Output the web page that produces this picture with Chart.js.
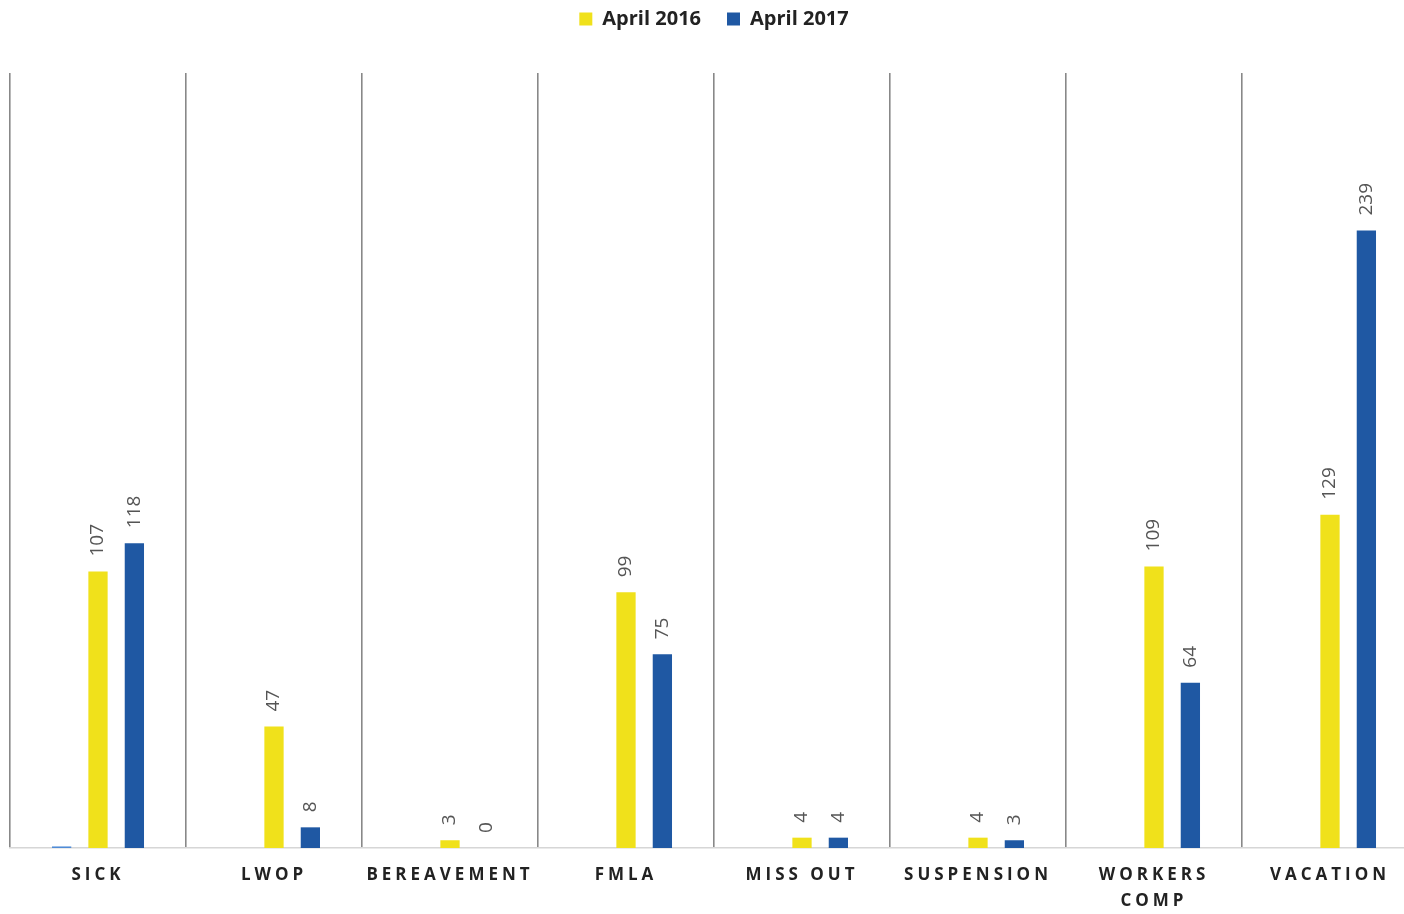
<!DOCTYPE html>
<html>
<head>
<meta charset="utf-8">
<script src="https://cdn.jsdelivr.net/npm/chart.js@4"></script>
<style>
  html, body { margin: 0; padding: 0; background: #fff; overflow: hidden; }
  #wrap { width: 1420px; height: 914px; }
</style>
</head>
<body>
<div id="wrap"><canvas id="myChart"></canvas></div>
<script>
const categories = ['SICK', 'LWOP', 'BEREAVEMENT', 'FMLA', 'MISS OUT', 'SUSPENSION', ['WORKERS', 'COMP'], 'VACATION'];
const april2016 = [107, 47, 3, 99, 4, 4, 109, 129];
const april2017 = [118, 8, 0, 75, 4, 3, 64, 239];
// faint unnamed series sitting left of each pair (only a sliver shows under SICK)
const unnamed = [0.6, 0, 0, 0, 0, 0, 0, 0];

const yellow = '#F0E11B';
const blue = '#1F58A3';

// extra room between the legend and the plot
const legendGap = {
    id: 'legendGap',
    afterInit(chart) {
        const fit = chart.legend.fit;
        chart.legend.fit = function () {
            fit.call(this);
            this.height += 34;
        };
    }
};

// value labels, turned to read bottom-to-top above each bar
const barValues = {
    id: 'barValues',
    afterDatasetsDraw(chart) {
        const ctx = chart.ctx;
        ctx.save();
        ctx.font = '19px "Open Sans"';
        ctx.fillStyle = '#555';
        ctx.textAlign = 'left';
        ctx.textBaseline = 'middle';
        [1, 2].forEach(di => {
            const meta = chart.getDatasetMeta(di);
            meta.data.forEach((bar, i) => {
                ctx.save();
                ctx.translate(bar.x, bar.y - 15);
                ctx.rotate(-Math.PI / 2);
                ctx.fillText(String(chart.data.datasets[di].data[i]), 0, 0);
                ctx.restore();
            });
        });
        ctx.restore();
    }
};

// category names with wide letter spacing under the axis
const spacedTicks = {
    id: 'spacedTicks',
    afterDraw(chart) {
        const ctx = chart.ctx;
        const xs = chart.scales.x;
        ctx.save();
        ctx.font = 'bold 17px "Open Sans"';
        ctx.fillStyle = '#222';
        ctx.textAlign = 'center';
        ctx.textBaseline = 'middle';
        ctx.letterSpacing = '4px';
        categories.forEach((c, i) => {
            const x = xs.getPixelForValue(i);
            const lines = Array.isArray(c) ? c : [c];
            lines.forEach((t, k) => {
                ctx.fillText(t, x, xs.bottom + 27 + k * 26);
            });
        });
        ctx.restore();
    }
};

const data = {
    labels: categories,
    datasets: [{
        label: '',
        data: unnamed,
        backgroundColor: '#4F8BD6'
    }, {
        label: 'April 2016',
        data: april2016,
        backgroundColor: yellow
    }, {
        label: 'April 2017',
        data: april2017,
        backgroundColor: blue
    }]
};

const config = {
    type: 'bar',
    data,
    options: {
        responsive: true,
        maintainAspectRatio: false,
        animation: false,
        categoryPercentage: 0.62,
        barPercentage: 0.53,
        layout: {
            padding: { left: 10, right: 2, top: -17, bottom: 66 }
        },
        scales: {
            x: {
                grid: {
                    display: true,
                    offset: true,
                    color: '#888',
                    lineWidth: 1.6,
                    drawTicks: false
                },
                border: {
                    display: true,
                    color: '#d6d6d6',
                    width: 1.5
                },
                ticks: { display: false }
            },
            y: {
                display: false,
                min: 0,
                max: 300
            }
        },
        plugins: {
            legend: {
                position: 'top',
                labels: {
                    filter: item => item.text !== '',
                    boxWidth: 13,
                    boxHeight: 13,
                    padding: 26,
                    color: '#222',
                    font: { family: 'Open Sans', size: 20, weight: '700' }
                }
            },
            tooltip: { enabled: false }
        }
    },
    plugins: [legendGap, barValues, spacedTicks]
};

var myChart = new Chart(
    document.getElementById('myChart'),
    config
);
</script>
</body>
</html>
